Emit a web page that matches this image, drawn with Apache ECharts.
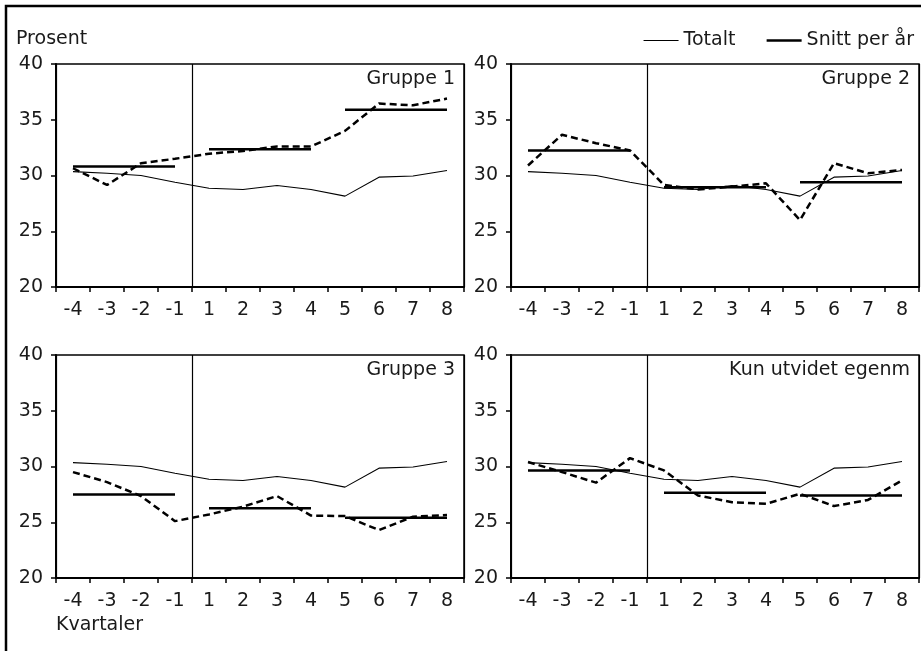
<!DOCTYPE html>
<html>
<head>
<meta charset="utf-8">
<script src="https://cdn.jsdelivr.net/npm/echarts@6/dist/echarts.min.js"></script>
<style>
  html, body { margin: 0; padding: 0; background: #fff; }
  #chart { width: 921px; height: 651px; }
</style>
</head>
<body>
<div id="chart"></div>
<script>
// kvartaler rundt tidspunktet (ingen kvartal 0)
var kvartaler = ['-4', '-3', '-2', '-1', '1', '2', '3', '4', '5', '6', '7', '8']

// Totalt, samme linje i alle paneler
var totalt = [30.35, 30.2, 30.0, 29.4, 28.85, 28.75, 29.1, 28.75, 28.15, 29.85, 29.95, 30.45]

// stiplet linje per gruppe
var gruppe1 = [30.65, 29.15, 31.1, 31.5, 31.95, 32.2, 32.6, 32.6, 34.0, 36.45, 36.3, 36.9]
var gruppe2 = [30.9, 33.65, 32.9, 32.25, 29.15, 28.75, 29.0, 29.3, 26.0, 31.1, 30.2, 30.5]
var gruppe3 = [29.5, 28.6, 27.35, 25.1, 25.7, 26.4, 27.35, 25.6, 25.55, 24.3, 25.5, 25.65]
var kunUtvidet = [30.4, 29.5, 28.55, 30.75, 29.65, 27.4, 26.8, 26.65, 27.55, 26.45, 27.0, 28.75]

// snitt per år (ett tall per fire kvartaler)
var snitt1 = [30.8, 32.35, 35.9]
var snitt2 = [32.25, 28.95, 29.4]
var snitt3 = [27.5, 26.25, 25.4]
var snitt4 = [29.65, 27.65, 27.4]

var paneler = [
  { navn: 'Gruppe 1', data: gruppe1, snitt: snitt1 },
  { navn: 'Gruppe 2', data: gruppe2, snitt: snitt2 },
  { navn: 'Gruppe 3', data: gruppe3, snitt: snitt3 },
  { navn: 'Kun utvidet egenm', data: kunUtvidet, snitt: snitt4 }
]

var FONT = 'DejaVu Sans'
var TXT = '#1a1a1a'
var grids = [
  { left: 56, top: 64, width: 408, height: 223 },
  { left: 511, top: 64, width: 408, height: 223 },
  { left: 56, top: 355, width: 408, height: 223 },
  { left: 511, top: 355, width: 408, height: 223 }
]

var chart = echarts.init(document.getElementById('chart'))

var xAxes = []
var yAxes = []
var series = []
var titles = [
  { text: 'Prosent', left: 16, top: 30, padding: 0, textStyle: { fontFamily: FONT, fontSize: 19, fontWeight: 'normal', color: TXT } },
  { text: 'Kvartaler', left: 56, top: 616, padding: 0, textStyle: { fontFamily: FONT, fontSize: 19, fontWeight: 'normal', color: TXT } }
]

paneler.forEach(function(p, g) {
  var grid = grids[g]
  xAxes.push({
    type: 'category',
    gridIndex: g,
    data: kvartaler,
    boundaryGap: true,
    axisLine: { lineStyle: { color: '#000', width: 2 } },
    axisTick: { show: true, interval: 0, length: 5, lineStyle: { color: '#000', width: 1.5 } },
    axisLabel: { interval: 0, margin: 14, fontFamily: FONT, fontSize: 19, color: TXT },
    // skillelinje mellom kvartal -1 og 1 (index 0 faller på aksen)
    splitLine: {
      show: true,
      interval: function(index) { return index === 0 || index === 4 },
      lineStyle: { color: '#000', width: 1.2 }
    }
  })
  yAxes.push({
    type: 'value',
    gridIndex: g,
    min: 20,
    max: 40,
    interval: 5,
    axisLine: { show: true, lineStyle: { color: '#000', width: 2 } },
    axisTick: { show: true, length: 5, lineStyle: { color: '#000', width: 1.5 } },
    axisLabel: { margin: 13, fontFamily: FONT, fontSize: 19, color: TXT },
    splitLine: { show: false }
  })
  titles.push({
    text: p.navn,
    right: 921 - (grid.left + grid.width) + 9,
    top: grid.top + 6,
    padding: 0,
    textStyle: { fontFamily: FONT, fontSize: 19, fontWeight: 'normal', color: TXT }
  })

  series.push({
    name: 'Totalt',
    type: 'line',
    xAxisIndex: g,
    yAxisIndex: g,
    data: totalt,
    symbol: 'none',
    lineStyle: { color: '#000', width: 1.1 },
    itemStyle: { color: '#000' },
    z: 3
  })
  series.push({
    name: p.navn,
    type: 'line',
    xAxisIndex: g,
    yAxisIndex: g,
    data: p.data,
    symbol: 'none',
    lineStyle: { color: '#000', width: 2.5, type: [7, 4] },
    z: 2
  })
  p.snitt.forEach(function(v, k) {
    series.push({
      name: 'Snitt per år',
      type: 'line',
      xAxisIndex: g,
      yAxisIndex: g,
      data: kvartaler.map(function(c, i) { return Math.floor(i / 4) === k ? v : null }),
      symbol: 'none',
      lineStyle: { color: '#000', width: 2.5 },
      itemStyle: { color: '#000' },
      z: 4
    })
  })
})

chart.setOption({
  animation: false,
  backgroundColor: '#fff',
  title: titles,
  legend: {
    data: [
      { name: 'Totalt', lineStyle: { width: 1.1, color: '#000' } },
      { name: 'Snitt per år', lineStyle: { width: 2.5, color: '#000' } }
    ],
    right: 2,
    top: 26,
    itemWidth: 35,
    itemHeight: 3,
    itemGap: 30,
    itemStyle: { opacity: 0 },
    textStyle: { fontFamily: FONT, fontSize: 19, color: TXT }
  },
  grid: grids.map(function(gr) {
    return {
      left: gr.left, top: gr.top, width: gr.width, height: gr.height,
      show: true, borderColor: '#000', borderWidth: 1.5, backgroundColor: 'transparent'
    }
  }),
  graphic: [{
    type: 'rect',
    shape: { x: 6, y: 6, width: 1000, height: 1000 },
    style: { fill: null, stroke: '#000', lineWidth: 2.5 },
    silent: true
  }],
  xAxis: xAxes,
  yAxis: yAxes,
  series: series
})
</script>
</body>
</html>
